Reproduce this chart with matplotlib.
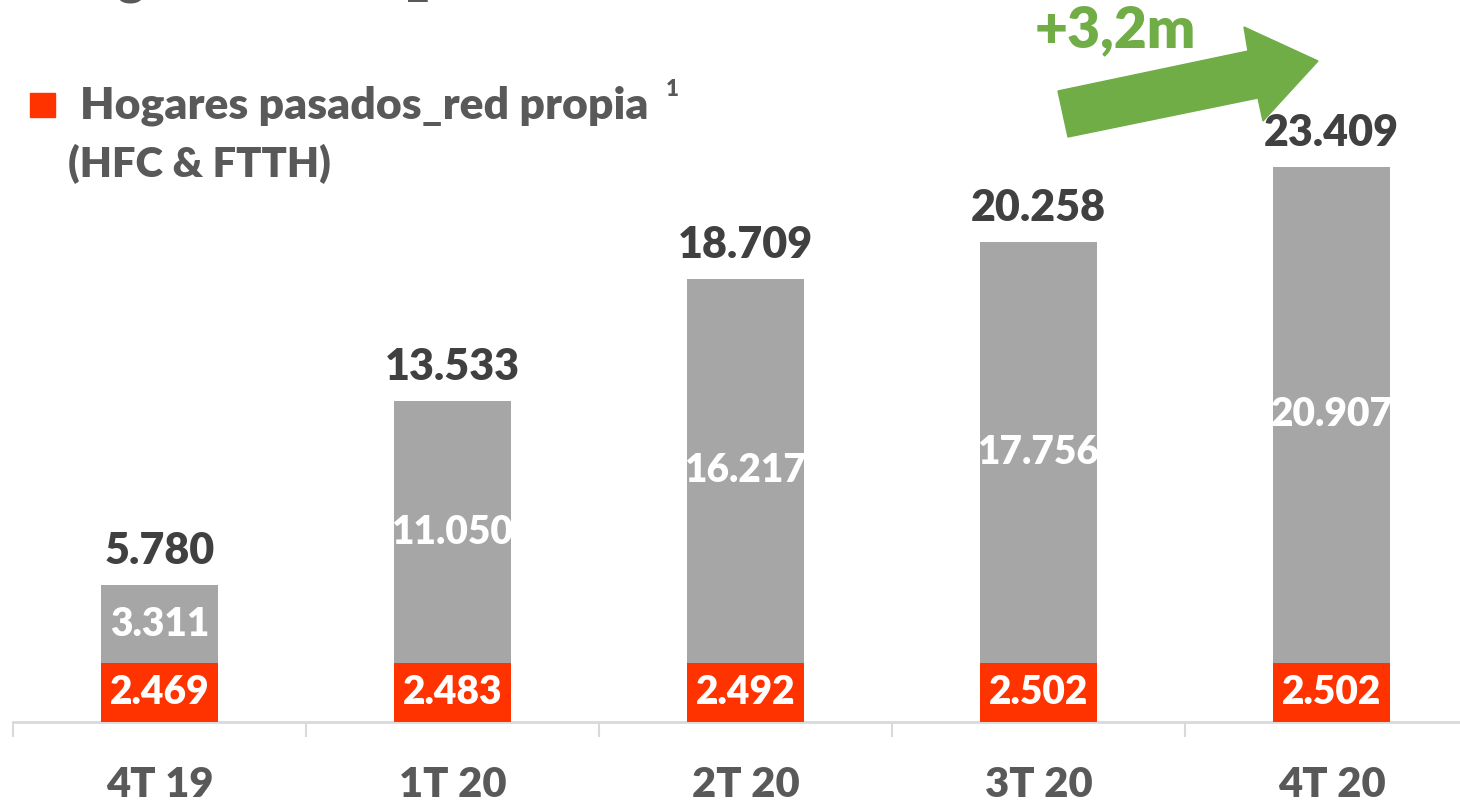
import matplotlib
matplotlib.use("Agg")
import matplotlib.pyplot as plt
from matplotlib.patches import Polygon, Rectangle

# ---- data ----
categories = ["4T 19", "1T 20", "2T 20", "3T 20", "4T 20"]
red_propia = [2469, 2483, 2492, 2502, 2502]
otros = [3311, 11050, 16217, 17756, 20907]
totals = [5780, 13533, 18709, 20258, 23409]
red_labels = ["2.469", "2.483", "2.492", "2.502", "2.502"]
otros_labels = ["3.311", "11.050", "16.217", "17.756", "20.907"]
total_labels = ["5.780", "13.533", "18.709", "20.258", "23.409"]
legend_text = "Hogares pasados_red propia"
legend_sub = "(HFC & FTTH)"
title_text = "Hogares totales_red total"
growth_text = "+3,2m"

ORANGE = "#FF3300"
GREY = "#A6A6A6"
DARK = "#404040"
TICK = "#595959"
GREEN = "#70AD47"
FONT = "Lato"
WT = "heavy"

W, H = 1460, 805
fig = plt.figure(figsize=(W / 100, H / 100), dpi=100)
fig.patch.set_facecolor("white")

def fx(px):
    return px / W

def fy(py):
    return (H - py) / H

# axes: left 13px, baseline at y=722px, top at 0
ax = fig.add_axes([fx(13), fy(722), fx(1460 - 13), 722 / H])

x = list(range(len(categories)))
bw = 0.4
ax.bar(x, red_propia, width=bw, color=ORANGE, zorder=3)
ax.bar(x, otros, width=bw, bottom=red_propia, color=GREY, zorder=3)

# axis styling
for s in ["top", "right", "left"]:
    ax.spines[s].set_visible(False)
ax.spines["bottom"].set_color("#D9D9D9")
ax.spines["bottom"].set_linewidth(2)
ax.set_yticks([])
ax.set_xticks([i - 0.5 for i in range(len(categories) + 1)])
ax.set_xticklabels([])
ax.tick_params(axis="x", length=11, width=1.5, color="#D9D9D9")
# limits set after ticks so the ticks do not widen the view
ax.set_xlim(-0.5, -0.5 + (1460 - 13) / 293.0)
ax.set_ylim(0, 722 / 0.0237)

for i in x:
    ax.text(i, red_propia[i] / 2, red_labels[i], ha="center", va="center",
            color="white", fontsize=28, fontweight=WT, family=FONT, zorder=4)
    ax.text(i, red_propia[i] + otros[i] / 2, otros_labels[i], ha="center", va="center",
            color="white", fontsize=28, fontweight=WT, family=FONT, zorder=4)
    ax.annotate(total_labels[i], (i, red_propia[i] + otros[i]), xytext=(0, 10),
                textcoords="offset points", ha="center", va="bottom",
                color=DARK, fontsize=31, fontweight=WT, family=FONT)

for i, c in enumerate(categories):
    ax.annotate(c, (i, 0), xycoords=("data", "axes fraction"), xytext=(0, -54),
                textcoords="offset points", ha="center", va="baseline",
                color=TICK, fontsize=30, fontweight=WT, family=FONT)

# legend
fig.add_artist(Rectangle((fx(30), fy(117)), fx(25), 24 / H, transform=fig.transFigure,
                         color=ORANGE))
fig.text(fx(80), fy(106), legend_text, ha="left", va="center", color=TICK,
         fontsize=32, fontweight=WT, family=FONT)
fig.text(fx(666), fy(90), "1", ha="left", va="center", color=TICK,
         fontsize=16, fontweight=WT, family=FONT)
fig.text(fx(68), fy(164), legend_sub, ha="left", va="center", color=TICK,
         fontsize=30, fontweight=WT, family=FONT)

# cut-off title at the very top (only descenders visible)
fig.text(fx(50), fy(-6), title_text, ha="left", va="baseline", color=TICK,
         fontsize=36, fontweight=WT, family=FONT)

# growth arrow
dy = -16
arrow_px = [(1068, 153), (1058, 107), (1248, 67), (1244, 43), (1318, 77),
            (1263, 137), (1258, 114)]
fig.add_artist(Polygon([(fx(a), fy(b + dy)) for a, b in arrow_px], closed=True,
                       transform=fig.transFigure, color=GREEN))
fig.text(fx(1115), fy(30), growth_text, ha="center", va="center", color=GREEN,
         fontsize=41, fontweight=WT, family=FONT)

fig.savefig("out.png", dpi=100, facecolor="white")
